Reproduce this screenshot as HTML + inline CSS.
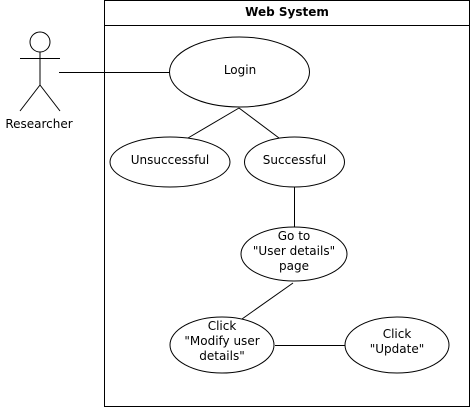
<!DOCTYPE html>
<html><head><style>body{margin:0;background:#fff}svg{display:block}</style></head><body>
<svg width="471" height="410" xmlns="http://www.w3.org/2000/svg" font-family="DejaVu Sans, sans-serif" font-size="12" fill="none" stroke="#000" stroke-width="1">
<rect x="104.5" y="0.5" width="365" height="406" fill="#fff"/>
<line x1="104.5" y1="25.5" x2="469.5" y2="25.5"/>
<text x="287" y="16" text-anchor="middle" fill="#000" stroke="none" font-weight="bold">Web System</text>
<circle cx="40" cy="42" r="10"/>
<line x1="40" y1="52" x2="40" y2="85"/>
<line x1="20" y1="58.5" x2="60" y2="58.5"/>
<line x1="40" y1="85" x2="20" y2="111"/>
<line x1="40" y1="85" x2="60" y2="111"/>
<text x="39" y="128" text-anchor="middle" fill="#000" stroke="none">Researcher</text>
<line x1="59" y1="72.5" x2="170" y2="72.5"/>
<line x1="239" y1="108" x2="188" y2="138"/>
<line x1="239" y1="108" x2="279" y2="138"/>
<line x1="294.5" y1="187" x2="294.5" y2="228"/>
<line x1="293" y1="283" x2="242" y2="319"/>
<line x1="275" y1="345.5" x2="345" y2="345.5"/>
<ellipse cx="239.5" cy="72" rx="70" ry="35" fill="#fff"/>
<ellipse cx="170" cy="162" rx="60" ry="25" fill="#fff"/>
<ellipse cx="294.5" cy="162" rx="50" ry="25" fill="#fff"/>
<ellipse cx="294" cy="254" rx="53" ry="27" fill="#fff"/>
<ellipse cx="222" cy="345" rx="52" ry="28" fill="#fff"/>
<ellipse cx="397" cy="345" rx="52" ry="28" fill="#fff"/>
<g fill="#000" stroke="none" text-anchor="middle">
<text x="240" y="74">Login</text>
<text x="170" y="164">Unsuccessful</text>
<text x="294.5" y="164">Successful</text>
<text x="294" y="240">Go to</text>
<text x="294" y="255">"User details"</text>
<text x="294" y="270">page</text>
<text x="222" y="330">Click</text>
<text x="222" y="345">"Modify user</text>
<text x="222" y="360">details"</text>
<text x="397" y="338">Click</text>
<text x="397" y="353">"Update"</text>
</g>
</svg>
</body></html>
